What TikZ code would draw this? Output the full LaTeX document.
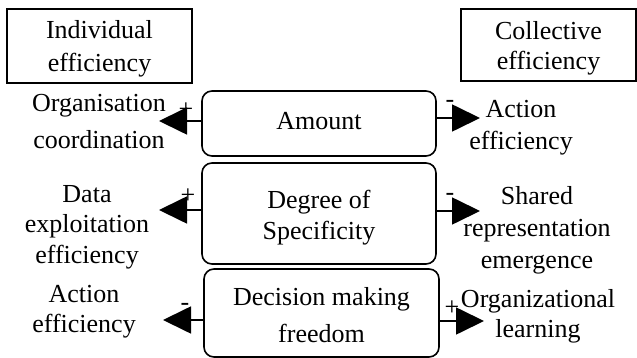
\documentclass[tikz,border=0pt]{standalone}
\usepackage{fontspec}
\setmainfont{Liberation Serif}
\usetikzlibrary{arrows.meta}
\begin{document}
\begin{tikzpicture}[x=1pt,y=-1pt,
  every node/.style={font=\fontsize{26}{32}\selectfont, align=center, inner sep=0pt},
  lsp/.style={font=\fontsize{26}{#1}\selectfont},
  header/.style={draw, line width=1.3pt},
  factor/.style={draw, line width=1.6pt, rounded corners=10pt},
  effect/.style={anchor=base},
  arr/.style={line width=1.7pt, -{Triangle[length=28pt,width=27pt]}},
  sign/.style={anchor=base}
]
\useasboundingbox (0,0) rectangle (637,358);

% column headers (text height/depth place the last baseline)
\node[header, lsp=33, minimum width=185pt, minimum height=74pt,
      text height=56pt, text depth=4pt] (indiv) at (99.5,46) {Individual\\efficiency};
\node[header, lsp=30, minimum width=175pt, minimum height=72pt,
      text height=55pt, text depth=5pt] (coll) at (548.5,45) {Collective\\efficiency};

% central factors
\node[factor, minimum width=234pt, minimum height=65pt,
      text height=18.5pt, text depth=5.5pt] (amount) at (319,123.5) {Amount};
\node[factor, lsp=32, minimum width=234pt, minimum height=101pt,
      text height=57pt, text depth=4pt] (degree) at (319,213.5) {Degree of\\Specificity};
\node[factor, lsp=37, minimum width=235pt, minimum height=88pt,
      text height=60pt, text depth=2pt] (decision) at (321.5,313) {Decision making\\freedom};

% effects on both sides, placed by their last baseline
\node[effect, lsp=37] (orgcoord) at (99,149) {Organisation\\coordination};
\node[effect, lsp=32] (actA) at (521,150) {Action\\efficiency};
\node[effect, lsp=30.5] (data) at (87,263) {Data\\exploitation\\efficiency};
\node[effect, lsp=31.5] (shared) at (537,268) {Shared\\representation\\emergence};
\node[effect, lsp=30] (actB) at (84,332) {Action\\efficiency};
\node[effect, lsp=30] (orglearn) at (538,337) {Organizational\\learning};

% arrow tips
\coordinate (t1) at (159,121);
\coordinate (t2) at (480,118);
\coordinate (t3) at (159,210);
\coordinate (t4) at (480,211);
\coordinate (t5) at (163,320);
\coordinate (t6) at (484,321);

\draw[arr] (amount.west |- t1) -- (t1);
\draw[arr] (amount.east |- t2) -- (t2);
\draw[arr] (degree.west |- t3) -- (t3);
\draw[arr] (degree.east |- t4) -- (t4);
\draw[arr] (decision.west |- t5) -- (t5);
\draw[arr] (decision.east |- t6) -- (t6);

% influence signs
\node[sign] (s1) at (186,117.5) {+};
\node[sign] (s2) at (450,107.5) {-};
\node[sign] (s3) at (188,203.5) {+};
\node[sign] (s4) at (450,200.5) {-};
\node[sign] (s5) at (185,310.5) {-};
\node[sign] (s6) at (452,315) {+};
\end{tikzpicture}
\end{document}
